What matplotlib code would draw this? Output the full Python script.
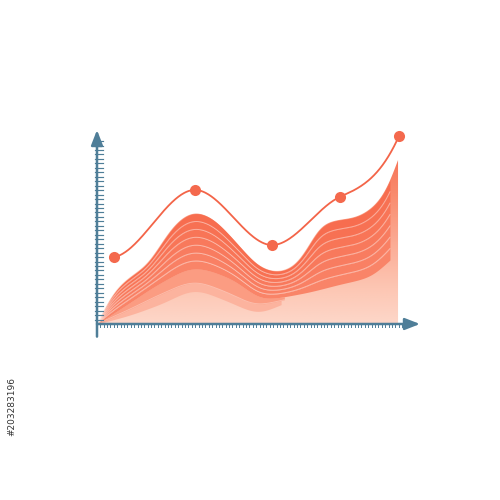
import numpy as np
import matplotlib
matplotlib.use("Agg")
import matplotlib.pyplot as plt
from matplotlib.colors import LinearSegmentedColormap, to_rgb

# ---------------- data (axis units 0..100) ----------------
# marker line series
line_x = [5.3, 30.3, 54.2, 75.2, 93.5]
line_y = [34.5, 69.1, 40.7, 65.5, 96.9]
line_slope = [0.3, 0.0, 0.0, 0.75, 3.7]   # curve tangents at the points

# top envelope of the stream area
top_x = [0, 5.6, 10.8, 15.5, 20.1, 25.1, 30.3, 35.0, 40.2, 45.2, 50.5, 55.7,
         60.7, 65.9, 69.0, 74.3, 79.3, 84.5, 89.8, 93.2]
top_y = [0, 17.5, 25.0, 30.5, 42.0, 53.0, 57.7, 55.2, 47.4, 38.1, 29.4, 26.8,
         29.4, 41.0, 50.5, 53.6, 54.6, 58.8, 69.1, 84.5]

# lower edge of the dark stream band
dark_x = [0, 10.2, 19.5, 30.3, 41.2, 52.0, 62.8, 75.2, 84.5, 90.7]
dark_y = [0, 11.0, 21.0, 28.8, 23.5, 13.0, 15.5, 20.5, 24.5, 33.0]

# lower edges of the lighter streams on the left hill
mid1_x = [0, 10.0, 20.0, 30.3, 40.0, 50.0, 58.0]
mid1_y = [0, 7.5, 15.5, 21.5, 16.5, 10.0, 12.5]
mid2_x = [0, 10.0, 20.0, 30.3, 40.0, 50.0, 57.0]
mid2_y = [0, 4.5, 10.5, 17.2, 12.0, 6.0, 10.0]

n_sub = 7  # sub-streams inside the dark band


def hermite(xk, yk, m, xs):
    xk = np.asarray(xk, float); yk = np.asarray(yk, float); m = np.asarray(m, float)
    h = np.diff(xk)
    idx = np.clip(np.searchsorted(xk, xs) - 1, 0, len(h) - 1)
    t = (xs - xk[idx]) / h[idx]
    h00 = 2 * t**3 - 3 * t**2 + 1; h10 = t**3 - 2 * t**2 + t
    h01 = -2 * t**3 + 3 * t**2; h11 = t**3 - t**2
    return h00 * yk[idx] + h10 * h[idx] * m[idx] + h01 * yk[idx + 1] + h11 * h[idx] * m[idx + 1]


def pchip(xk, yk, xs):
    xk = np.asarray(xk, float); yk = np.asarray(yk, float)
    h = np.diff(xk); d = np.diff(yk) / h
    m = np.zeros_like(yk)
    for i in range(1, len(xk) - 1):
        if d[i - 1] * d[i] > 0:
            w1 = 2 * h[i] + h[i - 1]; w2 = h[i] + 2 * h[i - 1]
            m[i] = (w1 + w2) / (w1 / d[i - 1] + w2 / d[i])
    m[0] = d[0]; m[-1] = d[-1]
    return hermite(xk, yk, m, xs)


def smooth_curve(xk, yk, xs, sigma=2.2):
    ys = pchip(xk, yk, xs)
    dx = xs[1] - xs[0]
    s = sigma / dx
    r = int(4 * s)
    k = np.exp(-0.5 * (np.arange(-r, r + 1) / s) ** 2); k /= k.sum()
    left = 2 * ys[0] - ys[1:r + 1][::-1]
    right = 2 * ys[-1] - ys[-r - 1:-1][::-1]
    ext = np.concatenate([left, ys, right])
    return np.convolve(ext, k, mode="valid")


axis_col = "#4f7e98"
line_col = "#f36448"

fig = plt.figure(figsize=(5, 5), dpi=100)
fig.patch.set_facecolor("white")
ax = fig.add_axes([0.194, 0.352, 0.646, 0.388])
ax.set_xlim(0, 100)
ax.set_ylim(0, 100)
ax.axis("off")

# background gradient area under the envelope
xs = np.linspace(top_x[0], top_x[-1], 800)
ts = smooth_curve(top_x, top_y, xs)
poly = ax.fill_between(xs, 0, ts, color="none", lw=0)
cmap = LinearSegmentedColormap.from_list(
    "g", [(0, "#fdd7c9"), (0.22, "#fdc6b3"), (0.5, "#fbab94"), (0.8, "#f98a6d"), (1, "#f7765a")])
grad = np.linspace(0, 1, 256).reshape(-1, 1)
im = ax.imshow(grad, extent=[0, top_x[-1], 0, max(top_y)], origin="lower",
               cmap=cmap, aspect="auto", zorder=1)
im.set_clip_path(poly.get_paths()[0], transform=ax.transData)

# lighter streams on the left hill
x2 = np.linspace(0, mid2_x[-1], 400)
d2 = smooth_curve(dark_x, dark_y, x2)
m2 = np.minimum(smooth_curve(mid2_x, mid2_y, x2), d2)
x1 = np.linspace(0, mid1_x[-1], 400)
d1 = smooth_curve(dark_x, dark_y, x1)
m1 = np.minimum(smooth_curve(mid1_x, mid1_y, x1), d1)
ax.fill_between(x2, m2, d2, color="#fcb39e", lw=0, zorder=2)
ax.fill_between(x1, m1, d1, color="#fb9c82", lw=0, zorder=3)
ax.plot(x1, m1, color="white", lw=0.6, alpha=0.35, zorder=3.5)

# dark band with sub-streams
xd = np.linspace(0, dark_x[-1], 700)
td = np.interp(xd, xs, ts)
dd = np.minimum(smooth_curve(dark_x, dark_y, xd), td)
c_lo = np.array(to_rgb("#f98468")); c_hi = np.array(to_rgb("#f76d4f"))
for k in range(n_sub):
    f0 = k / n_sub; f1 = (k + 1) / n_sub
    lo = dd + (td - dd) * f0; hi = dd + (td - dd) * f1
    c = c_lo + (c_hi - c_lo) * (k / (n_sub - 1))
    ax.fill_between(xd, lo, hi, color=c, lw=0, zorder=4)
    if k > 0:
        ax.plot(xd, lo, color="white", lw=0.7, alpha=0.45, zorder=5)

# marker line
xl = np.linspace(line_x[0], line_x[-1], 400)
ax.plot(xl, hermite(line_x, line_y, line_slope, xl), color=line_col, lw=1.3, zorder=6)
ax.plot(line_x, line_y, "o", color="#f4694d", ms=8, mec="none", zorder=7, clip_on=False)

# axes with arrows and ticks
ax.annotate("", xy=(0, 100), xytext=(0, -6.5), zorder=8,
            arrowprops=dict(arrowstyle="-|>,head_length=0.9,head_width=0.35",
                            color=axis_col, lw=1.8, shrinkA=0, shrinkB=0),
            annotation_clip=False)
ax.annotate("", xy=(100, 0), xytext=(0, 0), zorder=8,
            arrowprops=dict(arrowstyle="-|>,head_length=0.9,head_width=0.35",
                            color=axis_col, lw=1.8, shrinkA=0, shrinkB=0),
            annotation_clip=False)
for yt in np.arange(2.3, 95, 2.3):
    ax.plot([-0.7, 1.9], [yt, yt], color=axis_col, lw=0.85, zorder=8, clip_on=False)
for xt in np.arange(1.0, 97, 1.05):
    ax.plot([xt, xt], [0, -1.6], color=axis_col, lw=0.7, zorder=8, clip_on=False)

fig.text(0.024, 0.188, "#203283196", rotation=90, fontsize=6.5, color="#333333",
         ha="center", va="center")

fig.savefig("out.png", dpi=100, facecolor="white")
